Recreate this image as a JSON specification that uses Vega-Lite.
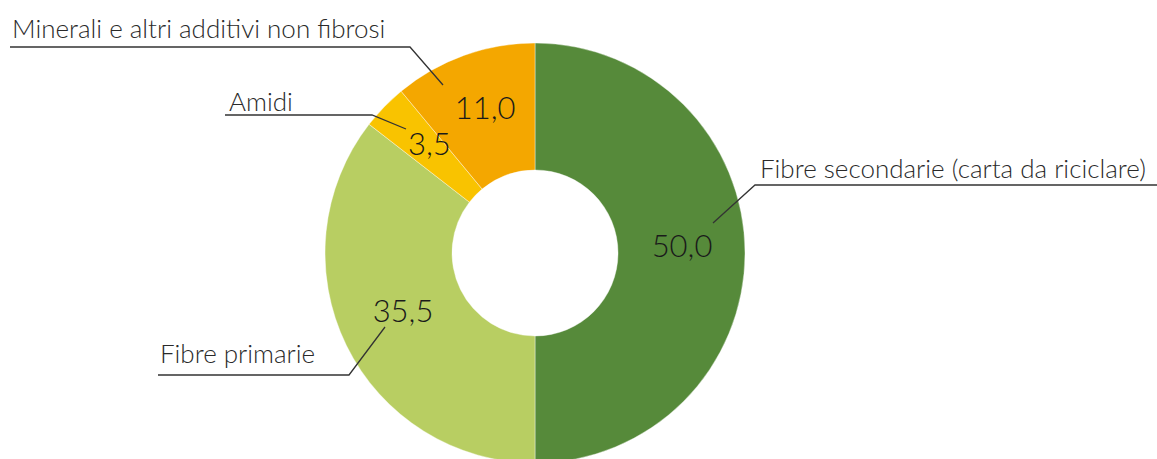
{
  "$schema": "https://vega.github.io/schema/vega-lite/v6.json",
  "width": 1157,
  "height": 459,
  "autosize": {"type": "none"},
  "padding": 0,
  "background": "white",
  "config": {"view": {"stroke": null}},
  "datasets": {
    "slices": [
      {"categoria": "Fibre secondarie (carta da riciclare)", "valore": 50.0, "etichetta": "50,0", "ordine": 1},
      {"categoria": "Fibre primarie", "valore": 35.5, "etichetta": "35,5", "ordine": 2},
      {"categoria": "Amidi", "valore": 3.5, "etichetta": "3,5", "ordine": 3},
      {"categoria": "Minerali e altri additivi non fibrosi", "valore": 11.0, "etichetta": "11,0", "ordine": 4}
    ],
    "leaders": [
      {"categoria": "Minerali e altri additivi non fibrosi", "punto": 1, "x": -525, "y": 206},
      {"categoria": "Minerali e altri additivi non fibrosi", "punto": 2, "x": -125, "y": 206},
      {"categoria": "Minerali e altri additivi non fibrosi", "punto": 3, "x": -92, "y": 168},
      {"categoria": "Amidi", "punto": 1, "x": -310, "y": 138},
      {"categoria": "Amidi", "punto": 2, "x": -163, "y": 138},
      {"categoria": "Amidi", "punto": 3, "x": -129, "y": 124},
      {"categoria": "Fibre secondarie (carta da riciclare)", "punto": 1, "x": 622, "y": 68},
      {"categoria": "Fibre secondarie (carta da riciclare)", "punto": 2, "x": 220, "y": 68},
      {"categoria": "Fibre secondarie (carta da riciclare)", "punto": 3, "x": 178, "y": 30},
      {"categoria": "Fibre primarie", "punto": 1, "x": -377, "y": -122},
      {"categoria": "Fibre primarie", "punto": 2, "x": -186, "y": -122},
      {"categoria": "Fibre primarie", "punto": 3, "x": -150, "y": -74}
    ],
    "labels": [
      {"categoria": "Minerali e altri additivi non fibrosi", "x": -523, "y": 215},
      {"categoria": "Amidi", "x": -306, "y": 142},
      {"categoria": "Fibre secondarie (carta da riciclare)", "x": 225, "y": 75},
      {"categoria": "Fibre primarie", "x": -375, "y": -110}
    ]
  },
  "layer": [
    {
      "data": {"name": "slices"},
      "mark": {"type": "arc", "outerRadius": 210, "innerRadius": 83, "stroke": "white", "strokeWidth": 0.4},
      "encoding": {
        "x": {"datum": 0, "type": "quantitative", "scale": {"domain": [-535, 622], "nice": false, "zero": false}, "axis": null},
        "y": {"datum": 0, "type": "quantitative", "scale": {"domain": [-206, 253], "nice": false, "zero": false}, "axis": null},
        "theta": {"field": "valore", "type": "quantitative", "stack": true},
        "order": {"field": "ordine", "type": "quantitative"},
        "color": {
          "field": "categoria",
          "type": "nominal",
          "scale": {
            "domain": ["Fibre secondarie (carta da riciclare)", "Fibre primarie", "Amidi", "Minerali e altri additivi non fibrosi"],
            "range": ["#568A3A", "#B8CE62", "#F9C300", "#F4A700"]
          },
          "legend": null
        }
      }
    },
    {
      "data": {"name": "slices"},
      "mark": {"type": "text", "radius": 147, "dy": -5, "font": "Lato", "fontSize": 31, "fontWeight": 300, "color": "#1a1a1a", "align": "center", "baseline": "middle"},
      "encoding": {
        "x": {"datum": 0, "type": "quantitative"},
        "y": {"datum": 0, "type": "quantitative"},
        "theta": {"field": "valore", "type": "quantitative", "stack": true},
        "order": {"field": "ordine", "type": "quantitative"},
        "text": {"field": "etichetta", "type": "nominal"}
      }
    },
    {
      "data": {"name": "leaders"},
      "mark": {"type": "line", "color": "#333333", "strokeWidth": 1.3},
      "encoding": {
        "x": {"field": "x", "type": "quantitative"},
        "y": {"field": "y", "type": "quantitative"},
        "detail": {"field": "categoria", "type": "nominal"},
        "order": {"field": "punto", "type": "quantitative"}
      }
    },
    {
      "data": {"name": "labels"},
      "mark": {"type": "text", "font": "Lato", "fontSize": 26, "fontWeight": 300, "color": "#2a2a2a", "align": "left", "baseline": "alphabetic"},
      "encoding": {
        "x": {"field": "x", "type": "quantitative"},
        "y": {"field": "y", "type": "quantitative"},
        "text": {"field": "categoria", "type": "nominal"}
      }
    }
  ]
}
